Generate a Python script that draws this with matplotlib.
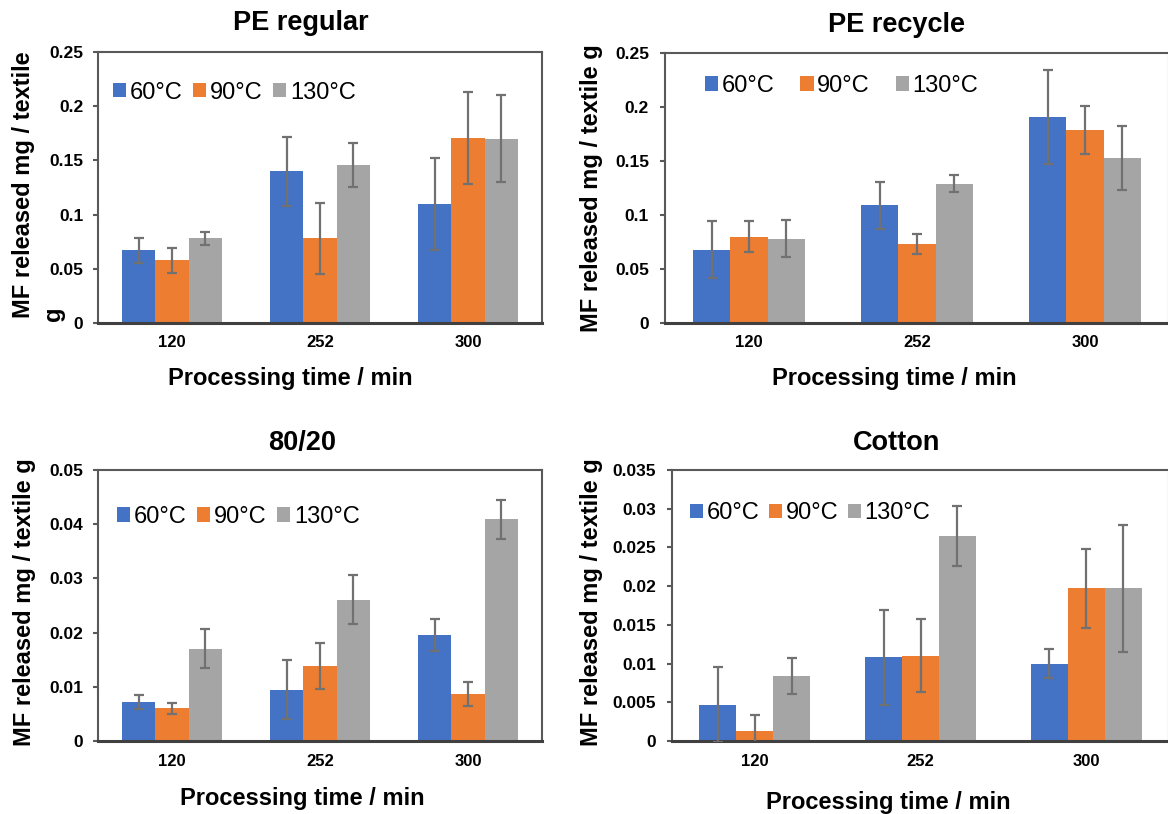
import matplotlib
matplotlib.use("Agg")
import matplotlib.pyplot as plt
from matplotlib.patches import Patch
import numpy as np

plt.rcParams['font.family'] = ['Liberation Sans', 'DejaVu Sans']

# ---- data -------------------------------------------------------------
times = ["120", "252", "300"]
temps = ["60°C", "90°C", "130°C"]
colors = ["#4472C4", "#ED7D31", "#A5A5A5"]

pe_regular_60 = [0.067, 0.140, 0.110]
pe_regular_90 = [0.058, 0.078, 0.171]
pe_regular_130 = [0.078, 0.146, 0.170]
pe_regular_60_err = [0.0115, 0.032, 0.0425]
pe_regular_90_err = [0.0115, 0.033, 0.0425]
pe_regular_130_err = [0.006, 0.0205, 0.040]

pe_recycle_60 = [0.068, 0.109, 0.191]
pe_recycle_90 = [0.080, 0.073, 0.1785]
pe_recycle_130 = [0.078, 0.129, 0.1525]
pe_recycle_60_err = [0.026, 0.022, 0.0435]
pe_recycle_90_err = [0.014, 0.0095, 0.022]
pe_recycle_130_err = [0.017, 0.008, 0.0295]

blend_60 = [0.0072, 0.0095, 0.0196]
blend_90 = [0.0060, 0.0138, 0.0086]
blend_130 = [0.0170, 0.0261, 0.0409]
blend_60_err = [0.00135, 0.0054, 0.0030]
blend_90_err = [0.0011, 0.0042, 0.0022]
blend_130_err = [0.0036, 0.0045, 0.0036]

cotton_60 = [0.0047, 0.0108, 0.0100]
cotton_90 = [0.0013, 0.0110, 0.0197]
cotton_130 = [0.0084, 0.0265, 0.0197]
cotton_60_err = [0.0048, 0.0061, 0.0019]
cotton_90_err = [0.0021, 0.0047, 0.0051]
cotton_130_err = [0.0023, 0.0039, 0.0082]

yticks_pe = [0, 0.05, 0.1, 0.15, 0.2, 0.25]
yticklabels_pe = ["0", "0.05", "0.1", "0.15", "0.2", "0.25"]
yticks_blend = [0, 0.01, 0.02, 0.03, 0.04, 0.05]
yticklabels_blend = ["0", "0.01", "0.02", "0.03", "0.04", "0.05"]
yticks_cotton = [0, 0.005, 0.01, 0.015, 0.02, 0.025, 0.03, 0.035]
yticklabels_cotton = ["0", "0.005", "0.01", "0.015", "0.02", "0.025", "0.03", "0.035"]

# ---- figure -----------------------------------------------------------
W, H = 1168, 814
fig = plt.figure(figsize=(W / 100, H / 100), dpi=100)


def px_axes(left, right, top, bottom):
    return fig.add_axes([left / W, 1 - bottom / H, (right - left) / W, (bottom - top) / H])


def ftext(x, y, s, **kw):
    fig.text(x / W, 1 - y / H, s, **kw)


def draw_panel(ax, series, errors, yticks, yticklabels, legend_xy, colspace, ypad):
    x = np.arange(len(times))
    w = 0.223
    for i, (vals, errs) in enumerate(zip(series, errors)):
        ax.bar(x + (i - 1) * w, vals, width=w, color=colors[i], zorder=2)
        ax.errorbar(x + (i - 1) * w, vals, yerr=errs, fmt='none', ecolor='#717171',
                    elinewidth=1.6, capsize=3.6, capthick=1.6, zorder=3)
    ax.set_xlim(-0.5, len(times) - 0.5)
    ax.set_ylim(yticks[0], yticks[-1])
    ax.set_xticks(x)
    ax.set_xticklabels(times, fontsize=12, fontweight='bold')
    ax.set_yticks(yticks)
    ax.set_yticklabels(yticklabels, fontsize=12.5, fontweight='bold')
    ax.tick_params(axis='x', length=0, pad=9)
    ax.tick_params(axis='y', length=3.6, width=1.5, color='#595959', pad=ypad)
    for side in ['left', 'top', 'right']:
        ax.spines[side].set_color('#595959')
        ax.spines[side].set_linewidth(1.5)
    ax.spines['bottom'].set_color('#404040')
    ax.spines['bottom'].set_linewidth(2.2)
    handles = [Patch(facecolor=c, edgecolor='none') for c in colors]
    ax.legend(handles, temps, loc='center left', bbox_to_anchor=legend_xy, ncol=3,
              frameon=False, fontsize=17, handlelength=0.56, handleheight=0.56,
              handletextpad=0.15, columnspacing=colspace, borderpad=0, borderaxespad=0)


# PE regular
ax1 = px_axes(98, 542, 52, 323)
draw_panel(ax1, [pe_regular_60, pe_regular_90, pe_regular_130],
           [pe_regular_60_err, pe_regular_90_err, pe_regular_130_err],
           yticks_pe, yticklabels_pe, (0.034, 0.85), 0.45, 7)
ftext(301, 23, "PE regular", fontsize=19.5, fontweight='bold', ha='center', va='center')
ftext(290, 378, "Processing time / min", fontsize=17, fontweight='bold', ha='center', va='center')
# y-axis title wraps onto a second line holding only the final "g"
ftext(23.5, 185, "MF released mg / textile", fontsize=17, fontweight='bold', rotation=90,
      ha='center', va='center')
ftext(53, 321, "g", fontsize=17, fontweight='bold', rotation=90, ha='center', va='bottom')

# PE recycle
ax2 = px_axes(665, 1169, 53, 323)
draw_panel(ax2, [pe_recycle_60, pe_recycle_90, pe_recycle_130],
           [pe_recycle_60_err, pe_recycle_90_err, pe_recycle_130_err],
           yticks_pe, yticklabels_pe, (0.079, 0.878), 1.1, 8)
ftext(896, 25, "PE recycle", fontsize=19.5, fontweight='bold', ha='center', va='center')
ftext(894, 378, "Processing time / min", fontsize=17, fontweight='bold', ha='center', va='center')
ftext(591, 188, "MF released mg / textile g", fontsize=17, fontweight='bold', rotation=90,
      ha='center', va='center')

# 80/20
ax3 = px_axes(98, 542, 470, 741)
draw_panel(ax3, [blend_60, blend_90, blend_130],
           [blend_60_err, blend_90_err, blend_130_err],
           yticks_blend, yticklabels_blend, (0.043, 0.827), 0.45, 7)
ftext(302, 443, "80/20", fontsize=19.5, fontweight='bold', ha='center', va='center')
ftext(302, 798, "Processing time / min", fontsize=17, fontweight='bold', ha='center', va='center')
ftext(25, 602, "MF released mg / textile g", fontsize=17, fontweight='bold', rotation=90,
      ha='center', va='center')

# Cotton
ax4 = px_axes(672, 1169, 470, 741)
draw_panel(ax4, [cotton_60, cotton_90, cotton_130],
           [cotton_60_err, cotton_90_err, cotton_130_err],
           yticks_cotton, yticklabels_cotton, (0.036, 0.841), 0.4, 8)
ftext(897, 443, "Cotton", fontsize=19.5, fontweight='bold', ha='center', va='center')
ftext(888, 802, "Processing time / min", fontsize=17, fontweight='bold', ha='center', va='center')
ftext(591, 602, "MF released mg / textile g", fontsize=17, fontweight='bold', rotation=90,
      ha='center', va='center')

fig.savefig("out.png", dpi=100, facecolor='white')
